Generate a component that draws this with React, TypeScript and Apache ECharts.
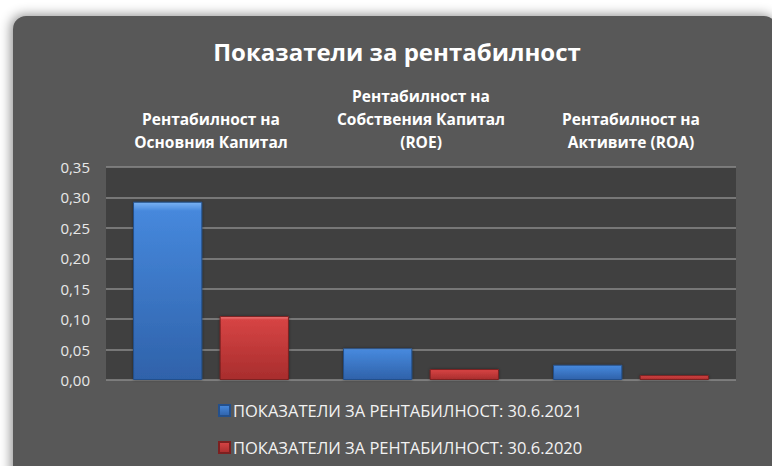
import React, { useEffect, useRef } from "react";
import * as echarts from "echarts";

const categories = [
  "Рентабилност на\nОсновния Капитал",
  "Рентабилност на\nСобствения Капитал\n(ROE)",
  "Рентабилност на\nАктивите (ROA)",
];
const seriesNames = [
  "ПОКАЗАТЕЛИ ЗА РЕНТАБИЛНОСТ: 30.6.2021",
  "ПОКАЗАТЕЛИ ЗА РЕНТАБИЛНОСТ: 30.6.2020",
];
const values2021 = [0.293, 0.052, 0.025];
const values2020 = [0.105, 0.018, 0.008];
const titleText = "Показатели за рентабилност";

const FONT = "'Open Sans', 'Noto Sans', sans-serif";

function grad(top: string, mid: string, bottom: string) {
  return new echarts.graphic.LinearGradient(0, 0, 0, 1, [
    { offset: 0, color: top },
    { offset: 0.05, color: mid },
    { offset: 1, color: bottom },
  ]);
}

export default function App() {
  const ref = useRef<HTMLDivElement>(null);
  useEffect(() => {
    if (!ref.current) return;
    const chart = echarts.init(ref.current, null, { renderer: "svg" });
    chart.setOption({
      animation: false,
      backgroundColor: "#ffffff",
      textStyle: { fontFamily: FONT },
      graphic: [
        {
          type: "rect",
          z: -10,
          silent: true,
          shape: { x: 13, y: 16, width: 764, height: 470, r: 13 },
          style: {
            fill: "#595959",
            shadowBlur: 12,
            shadowColor: "rgba(0,0,0,0.45)",
            shadowOffsetX: -2,
            shadowOffsetY: -1,
          },
        },
        {
          type: "text",
          x: 397,
          y: 51,
          style: {
            text: titleText,
            fill: "#ffffff",
            font: `bold 24px ${FONT}`,
            textAlign: "center",
            textVerticalAlign: "middle",
          },
        },
      ],
      grid: {
        left: 106,
        right: 36,
        top: 167,
        bottom: 86,
        show: true,
        backgroundColor: "#404040",
        borderWidth: 0,
      },
      legend: {
        orient: "vertical",
        left: 218,
        top: 402,
        padding: 0,
        itemGap: 20,
        itemWidth: 11,
        itemHeight: 11,
        icon: "rect",
        textStyle: { color: "#f2f2f2", fontSize: 16.5, fontFamily: FONT, padding: [0, 0, 0, -2] },
        data: seriesNames,
      },
      xAxis: {
        type: "category",
        position: "top",
        data: categories,
        axisLine: { show: false },
        axisTick: { show: false },
        axisLabel: {
          interval: 0,
          hideOverlap: false,
          color: "#ffffff",
          fontSize: 15.5,
          fontWeight: "bold",
          lineHeight: 23,
          margin: 14,
          fontFamily: FONT,
        },
      },
      yAxis: {
        type: "value",
        min: 0,
        max: 0.35,
        interval: 0.05,
        axisLine: { show: false },
        axisTick: { show: false },
        splitLine: { lineStyle: { color: "#8a8a8a", width: 1.5 } },
        axisLabel: {
          color: "#e8e8e8",
          fontSize: 15,
          margin: 16,
          fontFamily: FONT,
          formatter: (v: number) => v.toFixed(2).replace(".", ","),
        },
      },
      series: [
        {
          name: seriesNames[0],
          type: "bar",
          data: values2021,
          barWidth: "33%",
          barGap: "25%",
          itemStyle: {
            color: grad("#7ab2f2", "#4688dc", "#2f62aa"),
            borderColor: "#24508c",
            borderWidth: 1,
            shadowBlur: 3,
            shadowColor: "rgba(0,0,0,0.4)",
          },
        },
        {
          name: seriesNames[1],
          type: "bar",
          data: values2020,
          barWidth: "33%",
          itemStyle: {
            color: grad("#f28080", "#d64444", "#a82d2d"),
            borderColor: "#7d2020",
            borderWidth: 1,
            shadowBlur: 3,
            shadowColor: "rgba(0,0,0,0.4)",
          },
        },
      ],
    });
    return () => chart.dispose();
  }, []);
  return (
    <div
      ref={ref}
      style={{ position: "absolute", left: 0, top: 0, width: 772, height: 466 }}
    />
  );
}
